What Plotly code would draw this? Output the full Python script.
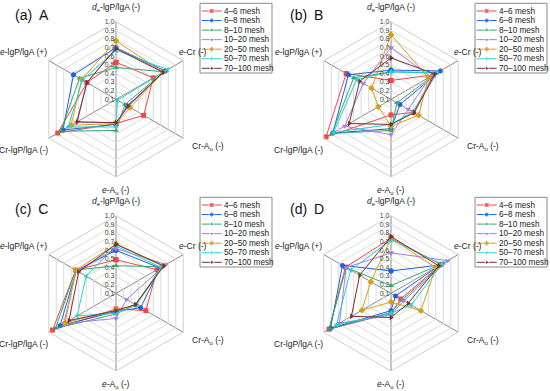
import plotly.graph_objects as go

W, H = 550, 391

categories = ["<i>d</i><sub>e</sub>-lgP/lgA (-)", "<i>e</i>-Cr (-)", "Cr-A<sub>u</sub> (-)",
              "<i>e</i>-A<sub>u</sub> (-)", "Cr-lgP/lgA (-)", "<i>e</i>-lgP/lgA (+)"]
series_names = ["4–6 mesh", "6–8 mesh", "8–10 mesh", "10–20 mesh", "20–50 mesh", "50–70 mesh", "70–100 mesh"]
panel_titles = ["(a)\u2002A", "(b)\u2002B", "(c)\u2002C", "(d)\u2002D"]
radial_ticks = [0.1, 0.2, 0.3, 0.4, 0.5, 0.6, 0.7, 0.8, 0.9, 1.0]

panel_a = [
    [0.53, 0.60, 0.47, 0.38, 0.88, 0.49],
    [0.70, 0.76, 0.25, 0.39, 0.81, 0.67],
    [0.47, 0.74, 0.22, 0.46, 0.84, 0.59],
    [0.70, 0.74, 0.26, 0.37, 0.63, 0.49],
    [0.78, 0.73, 0.29, 0.38, 0.70, 0.56],
    [0.67, 0.79, 0.12, 0.42, 0.74, 0.55],
    [0.69, 0.73, 0.26, 0.37, 0.62, 0.49],
]
panel_b = [
    [0.32, 0.67, 0.40, 0.28, 0.97, 0.70],
    [0.44, 0.76, 0.22, 0.44, 0.88, 0.67],
    [0.42, 0.71, 0.18, 0.46, 0.89, 0.60],
    [0.70, 0.63, 0.33, 0.51, 0.72, 0.47],
    [0.85, 0.60, 0.47, 0.41, 0.27, 0.36],
    [0.42, 0.72, 0.39, 0.39, 0.87, 0.56],
    [0.58, 0.69, 0.41, 0.39, 0.66, 0.52],
]
panel_c = [
    [0.49, 0.65, 0.50, 0.28, 0.95, 0.64],
    [0.60, 0.69, 0.43, 0.31, 0.85, 0.63],
    [0.42, 0.72, 0.36, 0.34, 0.91, 0.64],
    [0.62, 0.77, 0.24, 0.39, 0.80, 0.63],
    [0.67, 0.73, 0.37, 0.29, 0.78, 0.64],
    [0.65, 0.70, 0.37, 0.33, 0.62, 0.50],
    [0.67, 0.74, 0.36, 0.30, 0.73, 0.60],
]
panel_d = [
    [0.74, 0.77, 0.23, 0.33, 0.93, 0.71],
    [0.36, 0.76, 0.16, 0.30, 0.91, 0.75],
    [0.19, 0.80, 0.25, 0.32, 0.93, 0.70],
    [0.57, 0.86, 0.27, 0.35, 0.79, 0.70],
    [0.74, 0.70, 0.50, 0.20, 0.49, 0.37],
    [0.72, 0.78, 0.37, 0.33, 0.83, 0.64],
    [0.76, 0.74, 0.33, 0.38, 0.63, 0.52],
]
panels = [panel_a, panel_b, panel_c, panel_d]

colors = ["#F5474A", "#1F5FE0", "#35A86A", "#A77BEA", "#D4A012", "#1FD3D3", "#7A2E2E"]
symbols = ["square", "circle", "triangle-up", "triangle-down", "diamond", "triangle-left", "triangle-right"]

FONT = "Arial, Liberation Sans, sans-serif"

# panel geometry (pixels)
R = 77.6
offsets = [(0, 0), (275, 0), (0, 194), (275, 194)]
cx0, cy0 = 116, 99.4
# axis-label placement relative to each panel centre: (dx, dy, xanchor)
label_pos = [(0, -92, "center"), (61, -47.5, "left"), (74, 47.5, "left"),
             (0, 91.5, "center"), (-66, 50.5, "right"), (-67, -47, "right")]

fig = go.Figure()
layout_extra = {}
annotations = []
shapes = []

for p, (data, (ox, oy)) in enumerate(zip(panels, offsets)):
    pname = "polar" if p == 0 else f"polar{p+1}"
    cx, cy = cx0 + ox, cy0 + oy
    dom_x = [(cx - R) / W, (cx + R) / W]
    dom_y = [(H - cy - R) / H, (H - cy + R) / H]
    layout_extra[pname] = dict(
        domain=dict(x=dom_x, y=dom_y),
        gridshape="linear",
        bgcolor="rgba(0,0,0,0)",
        angularaxis=dict(
            type="category", categoryarray=categories, direction="clockwise", rotation=90,
            showline=True, linecolor="#d0d0d0", linewidth=1,
            gridcolor="#8a8a8a", gridwidth=1, ticks="", showticklabels=False,
        ),
        radialaxis=dict(
            range=[0.1, 1.0], tickvals=radial_ticks, tickformat=".1f", angle=90, tickangle=90,
            showline=False, gridcolor="#dcdcdc", gridwidth=1, ticks="",
            side="counterclockwise",
            tickfont=dict(size=7, color="#444", family=FONT),
        ),
    )
    for i, name in enumerate(series_names):
        r = data[i] + [data[i][0]]
        th = categories + [categories[0]]
        fig.add_trace(go.Scatterpolar(
            r=r, theta=th, subplot=pname, mode="lines+markers", name=name,
            line=dict(color=colors[i], width=1),
            marker=dict(color=colors[i], symbol=symbols[i], size=5),
            showlegend=False,
        ))
    # axis category labels
    for cat, (dx, dy, xa) in zip(categories, label_pos):
        annotations.append(dict(x=cx + dx, y=cy + dy, xref="x", yref="y", text=cat,
                                showarrow=False, xanchor=xa, yanchor="middle",
                                font=dict(size=8.5, color="#222", family=FONT)))
    # panel title
    annotations.append(dict(x=13 + ox, y=15 + oy, xref="x", yref="y", text=panel_titles[p],
                            showarrow=False, xanchor="left", yanchor="middle",
                            font=dict(size=14, color="#111", family=FONT)))
    # custom legend
    bx0, by0, bx1, by1 = 200 + ox, 3.3 + oy, 272 + ox, 73 + oy
    shapes.append(dict(type="rect", xref="x", yref="y", x0=bx0, y0=by0, x1=bx1, y1=by1,
                       line=dict(color="#8a8a8a", width=1), fillcolor="white", layer="below"))
    for i, name in enumerate(series_names):
        yy = 11 + oy + i * 9.55
        fig.add_trace(go.Scatter(
            x=[bx0 + 1.7, bx0 + 11.7, bx0 + 21.7], y=[yy, yy, yy], mode="lines+markers",
            line=dict(color=colors[i], width=1),
            marker=dict(color=colors[i], symbol=symbols[i], size=[0, 5, 0]),
            showlegend=False, hoverinfo="skip", xaxis="x", yaxis="y",
        ))
        annotations.append(dict(x=bx0 + 22, y=yy, xref="x", yref="y", text=name, showarrow=False,
                                xanchor="left", yanchor="middle",
                                font=dict(size=8.2, color="#222", family=FONT)))

fig.update_layout(
    width=W, height=H, margin=dict(l=0, r=0, t=0, b=0),
    paper_bgcolor="white", plot_bgcolor="rgba(0,0,0,0)",
    showlegend=False,
    xaxis=dict(domain=[0, 1], range=[0, W], visible=False, fixedrange=True),
    yaxis=dict(domain=[0, 1], range=[H, 0], visible=False, fixedrange=True),
    annotations=annotations, shapes=shapes,
    **layout_extra,
)

fig.write_html("out.html", config={"displayModeBar": False},
               post_script="document.body.style.margin='0px';document.body.style.overflow='hidden';")
